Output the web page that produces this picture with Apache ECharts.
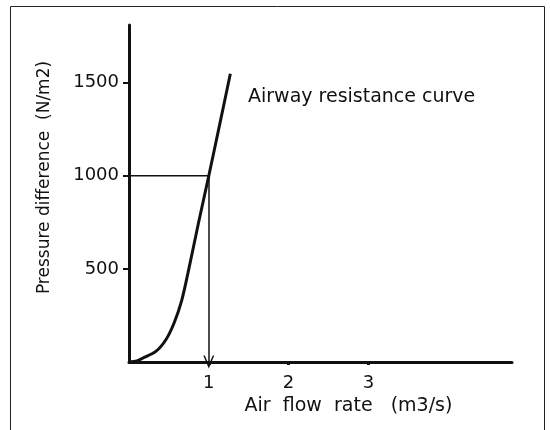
<!DOCTYPE html>
<html>
<head>
<meta charset="utf-8">
<style>
  html, body { margin: 0; padding: 0; background: #fff; }
  #chart { width: 550px; height: 430px; }
</style>
<script src="https://cdn.jsdelivr.net/npm/echarts@6/dist/echarts.min.js"></script>
</head>
<body>
<div id="chart"></div>
<script>
// airway resistance curve
const flowRate = [0, 0.1, 0.17, 0.34, 0.47, 0.57, 0.66, 0.74, 0.87, 1.0, 1.14, 1.27];
const pressure = [0, 6, 20, 58, 125, 215, 330, 480, 745, 1000, 1283, 1548];

// the 1000 N/m2 read-off point
const markFlow = 1;
const markPressure = 1000;

const xTicks = [1, 2, 3];
const yTicks = [500, 1000, 1500];

const xTitle = 'Air  flow  rate   (m3/s)';
const yTitle = 'Pressure difference  (N/m2)';
const curveLabel = 'Airway resistance curve';

const ink = '#111';
const font = 'DejaVu Sans';

const chart = echarts.init(document.getElementById('chart'));

chart.setOption({
  animation: false,
  grid: { left: 129, right: 38, top: 25, bottom: 68 },
  xAxis: {
    type: 'value',
    min: 0,
    max: 4.8,
    name: xTitle,
    nameLocation: 'middle',
    nameGap: 35,
    nameTextStyle: { color: ink, fontFamily: font, fontSize: 19, padding: [0, 0, 0, 56] },
    axisLine: { show: true, lineStyle: { color: ink, width: 3 } },
    axisTick: { show: true, customValues: xTicks, length: 3, lineStyle: { color: ink, width: 3 } },
    axisLabel: { customValues: xTicks, color: ink, fontFamily: font, fontSize: 18, margin: 12 },
    splitLine: { show: false },
  },
  yAxis: {
    type: 'value',
    min: 0,
    max: 1810,
    name: yTitle,
    nameLocation: 'middle',
    nameGap: 76,
    nameRotate: 90,
    nameTextStyle: { color: ink, fontFamily: font, fontSize: 17, padding: [0, 0, 0, 32] },
    axisLine: { show: true, lineStyle: { color: ink, width: 3 } },
    axisTick: { show: true, customValues: yTicks, length: 6, lineStyle: { color: ink, width: 2 } },
    axisLabel: {
      customValues: yTicks,
      formatter: (v) => String(v),
      color: ink,
      fontFamily: font,
      fontSize: 18,
      margin: 10,
    },
    splitLine: { show: false },
  },
  graphic: [
    {
      type: 'rect',
      shape: { x: 10.5, y: 6.5, width: 534, height: 440 },
      style: { fill: 'none', stroke: '#222', lineWidth: 1 },
      silent: true,
    },
    {
      type: 'text',
      left: 248,
      top: 88,
      style: { text: curveLabel, fill: ink, font: '19px "DejaVu Sans"' },
    },
  ],
  series: [
    {
      name: 'Airway resistance',
      type: 'line',
      data: flowRate.map((x, i) => [x, pressure[i]]),
      smooth: 0.3,
      showSymbol: false,
      lineStyle: { color: ink, width: 3 },
      z: 3,
    },
    {
      name: 'Read-off',
      type: 'line',
      data: [[0, markPressure], [markFlow, markPressure]],
      showSymbol: false,
      lineStyle: { color: ink, width: 1.5 },
      markLine: {
        silent: true,
        symbolSize: [11, 13],
        label: { show: false },
        lineStyle: { color: ink, width: 1.5, type: 'solid' },
        data: [
          [
            { coord: [markFlow, markPressure], symbol: 'none' },
            { coord: [markFlow, 0], symbol: 'path://M0,10L5,0L10,10L8.6,10L5,2.8L1.4,10Z' },
          ],
        ],
      },
      z: 2,
    },
  ],
});
</script>
</body>
</html>
